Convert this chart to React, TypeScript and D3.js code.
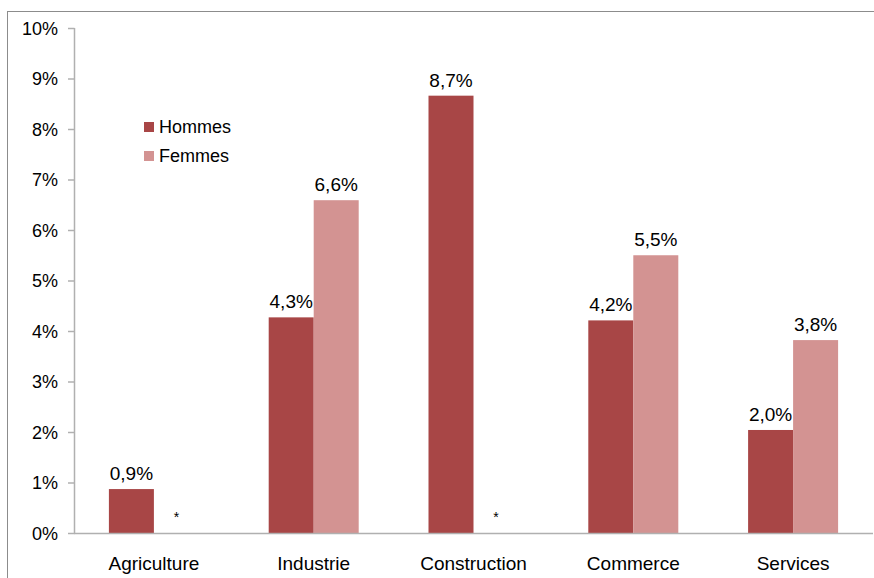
import React from "react";
import * as d3 from "d3";

const categories = ["Agriculture", "Industrie", "Construction", "Commerce", "Services"];
const hommes: (number | null)[] = [0.87, 4.27, 8.66, 4.21, 2.04];
const femmes: (number | null)[] = [null, 6.59, null, 5.5, 3.82];
const seriesNames = ["Hommes", "Femmes"];
const colors = ["#A84646", "#D39392"];
const yTicks = [0, 1, 2, 3, 4, 5, 6, 7, 8, 9, 10];

const W = 874;
const H = 578;
const FONT = "'Liberation Sans', Arial, sans-serif";

export default function App() {
  const x0 = d3.scaleBand<string>().domain(categories).range([74, 873]).paddingInner(0).paddingOuter(0);
  const x1 = d3.scaleBand<string>().domain(seriesNames).range([0, 90]);
  const y = d3.scaleLinear().domain([0, 10]).range([533, 28]);
  const bw = x0.bandwidth();
  const fmt = (v: number) => v.toFixed(1).replace(".", ",") + "%";
  const data = [hommes, femmes];

  return (
    <svg
      width={W}
      height={H}
      style={{ position: "absolute", left: 0, top: 0, display: "block", background: "#fff" }}
      fontFamily={FONT}
    >
      <rect x={7.5} y={11.5} width={W} height={H} fill="none" stroke="#8c8c8c" strokeWidth={1} />
      {/* y axis */}
      <line x1={74.5} x2={74.5} y1={y(10)} y2={y(0)} stroke="#b0b0b0" strokeWidth={1.5} />
      {yTicks.map((t) => (
        <g key={t}>
          <line x1={68} x2={74.5} y1={y(t) + 0.5} y2={y(t) + 0.5} stroke="#b0b0b0" strokeWidth={1.5} />
          <text x={58} y={y(t) + 6.5} textAnchor="end" fontSize={18} fill="#000">
            {t}%
          </text>
        </g>
      ))}
      {/* bars */}
      {categories.map((c, i) => {
        const gx = (x0(c) as number) + bw / 2 - 45;
        return (
          <g key={c}>
            {data.map((s, k) => {
              const v = s[i];
              const bx = gx + (x1(seriesNames[k]) as number);
              const cx = bx + x1.bandwidth() / 2;
              if (v == null) {
                return (
                  <text key={k} x={cx} y={y(0) - 11} textAnchor="middle" fontSize={14} fill="#000">
                    *
                  </text>
                );
              }
              return (
                <g key={k}>
                  <rect x={bx} y={y(v)} width={x1.bandwidth()} height={y(0) - y(v)} fill={colors[k]} />
                  <text x={cx} y={y(v) - 9} textAnchor="middle" fontSize={19} fill="#000">
                    {fmt(v)}
                  </text>
                </g>
              );
            })}
            <text x={(x0(c) as number) + bw / 2} y={570} textAnchor="middle" fontSize={19} fill="#000">
              {c}
            </text>
          </g>
        );
      })}
      {/* x axis */}
      <line x1={74} x2={873} y1={y(0) + 0.5} y2={y(0) + 0.5} stroke="#b0b0b0" strokeWidth={1.5} />
      {/* legend */}
      {seriesNames.map((n, k) => (
        <g key={n}>
          <rect x={144} y={122 + k * 29} width={10} height={10} fill={colors[k]} />
          <text x={159} y={133 + k * 29} fontSize={18} fill="#000">
            {n}
          </text>
        </g>
      ))}
    </svg>
  );
}
